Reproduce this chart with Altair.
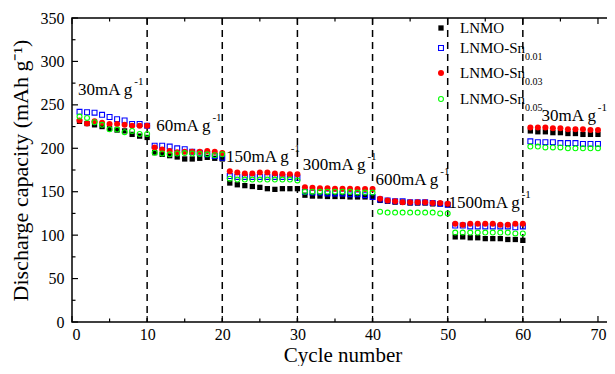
import altair as alt
import pandas as pd

# ---------------- data ----------------
cycles = list(range(1, 71))

lnmo = [231, 228.5, 227, 225, 222.7, 221, 220, 216, 214, 212.5,
        195, 193, 191.5, 190, 187.7, 187.7, 188.5, 189.6, 188.5, 187.7,
        160, 158, 157, 156, 155, 153.5, 152.7, 153.5, 153.5, 153.5,
        146, 145, 145, 144.5, 144.5, 144.5, 144, 144, 144, 144,
        140, 139, 138, 138, 137, 137, 137, 136, 136, 135,
        98, 98, 97, 97, 96, 96, 96, 95, 95, 94,
        220, 219, 219, 218, 218, 217, 217, 216, 216, 216]

sn001 = [242, 241.5, 241, 238.5, 236, 233.5, 232, 228, 228, 226,
         203, 203, 202, 200, 199, 196, 195, 193, 191, 189,
         168, 167, 167, 167, 167, 167, 167, 167, 167, 166,
         150, 149, 149, 148, 148, 148, 147, 147, 146, 144,
         141, 140, 139, 139, 138, 138, 138, 137, 136, 135,
         111, 111, 110, 110, 110, 110, 110, 110, 109, 110,
         208, 207, 207, 207, 206, 206, 206, 205, 205, 205]

sn003 = [232, 228.5, 231, 229.5, 228, 228, 227, 226, 226, 226,
         201, 198.5, 197, 195.5, 196, 196, 196, 197, 196, 194.5,
         173.5, 172, 171, 171, 172, 172, 171, 170.5, 170, 170,
         155, 154.5, 154, 154, 153.5, 153.5, 153.5, 153, 153, 153,
         142, 140, 139, 138, 138, 138, 138, 137, 137, 136,
         113, 112, 113, 113, 113, 113, 112, 112, 113, 113,
         224, 224, 224, 223, 223, 222, 222, 222, 221, 221]

sn005 = [236.5, 235, 230, 227, 222, 221.5, 218.5, 220, 216.5, 216.5,
         195, 194, 193, 194, 194.5, 194, 193.5, 193, 192, 193,
         165, 164, 164, 164, 164, 164, 164, 164, 164, 163,
         150, 150, 150, 150, 150, 150, 150, 149, 149, 149,
         127, 126, 126, 126, 126, 126, 126, 126, 125, 125,
         103, 103, 103, 103, 103, 103, 103, 103, 102, 102,
         202, 202, 201, 201, 201, 200, 200, 200, 200, 200]

series_names = ["LNMO", "LNMO-Sn", "LNMO-Sn", "LNMO-Sn"]
series_subs = ["", "0.01", "0.03", "0.05"]

rate_boundaries = [10, 20, 30, 40, 50, 60]

ann_text = ["30mA g", "60mA g", "150mA g", "300mA g", "600mA g", "1500mA g", "30mA g"]
ann_x = [0.8, 11.2, 20.5, 30.7, 40.4, 50.1, 62.5]
ann_y = [267, 226, 190, 181, 164, 137, 237]

x_ticks_major = [0, 10, 20, 30, 40, 50, 60, 70]
x_ticks_minor = [5, 15, 25, 35, 45, 55, 65]
y_ticks_major = [0, 50, 100, 150, 200, 250, 300, 350]
y_ticks_minor = [25, 75, 125, 175, 225, 275, 325]

# ---------------- styling ----------------
W, H = 541, 304
FONT = "Liberation Serif"
XDOM = [0, 72]
YDOM = [0, 350]
GREEN = "#00ff00"

xs = alt.Scale(domain=XDOM, nice=False, zero=False)
ys = alt.Scale(domain=YDOM, nice=False)

char_w = {" ": 0.25, "m": 0.778, "A": 0.722, "g": 0.5, "L": 0.611, "N": 0.722,
          "M": 0.889, "O": 0.722, "-": 0.333, "S": 0.556, "n": 0.5}


def text_width(s, size):
    return sum(char_w.get(c, 0.5) for c in s) * size


x_axis = alt.Axis(values=x_ticks_major, title="Cycle number")
y_axis = alt.Axis(values=y_ticks_major, title="Discharge capacity (mAh g\u207b\u00b9)")

df = pd.DataFrame({"cycle": cycles, "lnmo": lnmo, "sn001": sn001,
                   "sn003": sn003, "sn005": sn005})

base = alt.Chart(df)

p_lnmo = base.mark_point(shape="square", filled=True, color="black", size=28, opacity=1).encode(
    x=alt.X("cycle:Q", scale=xs, axis=x_axis), y=alt.Y("lnmo:Q", scale=ys, axis=y_axis))
p_001 = base.mark_point(shape="square", filled=False, color="#0000ff", size=24,
                        strokeWidth=1.1, opacity=1).encode(
    x=alt.X("cycle:Q", scale=xs), y=alt.Y("sn001:Q", scale=ys))
p_003 = base.mark_point(shape="circle", filled=True, color="#ff0000", size=36, opacity=1).encode(
    x=alt.X("cycle:Q", scale=xs), y=alt.Y("sn003:Q", scale=ys))
p_005 = base.mark_point(shape="circle", filled=False, color=GREEN, size=24,
                        strokeWidth=1.1, opacity=1).encode(
    x=alt.X("cycle:Q", scale=xs), y=alt.Y("sn005:Q", scale=ys))

dash = alt.Chart(pd.DataFrame({"x": rate_boundaries})).mark_rule(
    color="black", strokeWidth=1.5, strokeDash=[7, 5]).encode(
    x=alt.X("x:Q", scale=xs))

# rate annotations with superscript -1
ann_df = pd.DataFrame({"t": ann_text, "x": ann_x, "y": ann_y})
units_per_px = (XDOM[1] - XDOM[0]) / W
ann_df["sx"] = ann_df["x"] + [text_width(t, 17) * units_per_px for t in ann_text]
ann = alt.Chart(ann_df).mark_text(font=FONT, fontSize=17, align="left", baseline="middle",
                                  color="black").encode(
    x=alt.X("x:Q", scale=xs), y=alt.Y("y:Q", scale=ys), text="t:N")
ann_sup = alt.Chart(ann_df).mark_text(font=FONT, fontSize=11, align="left", baseline="middle",
                                      color="black", dx=1, dy=-8).encode(
    x=alt.X("sx:Q", scale=xs), y=alt.Y("y:Q", scale=ys), text=alt.value("-1"))


# inward ticks on all four sides
def xticks(vals, length):
    d = alt.Chart(pd.DataFrame({"v": vals}))
    bot = d.mark_rule(color="black", strokeWidth=1.2).encode(
        x=alt.X("v:Q", scale=xs), y=alt.value(H), y2=alt.value(H - length))
    top = d.mark_rule(color="black", strokeWidth=1.2).encode(
        x=alt.X("v:Q", scale=xs), y=alt.value(0), y2=alt.value(length))
    return bot + top


def yticks(vals, length):
    d = alt.Chart(pd.DataFrame({"v": vals}))
    left = d.mark_rule(color="black", strokeWidth=1.2).encode(
        y=alt.Y("v:Q", scale=ys), x=alt.value(0), x2=alt.value(length))
    right = d.mark_rule(color="black", strokeWidth=1.2).encode(
        y=alt.Y("v:Q", scale=ys), x=alt.value(W), x2=alt.value(W - length))
    return left + right


ticks = xticks(x_ticks_major, 6) + xticks(x_ticks_minor, 3.5) + \
    yticks(y_ticks_major, 6) + yticks(y_ticks_minor, 3.5)

# manual legend (with subscripts), placed top-right inside the plot
leg_df = pd.DataFrame({
    "name": series_names, "sub": series_subs,
    "px": [369] * 4, "py": [10, 30, 55, 81],
})
leg_df["tx"] = leg_df["px"] + 19
leg_df["sx"] = leg_df["tx"] + [text_width(n, 15) for n in series_names]
leg_styles = [("square", True, "black", 28), ("square", False, "#0000ff", 24),
              ("circle", True, "#ff0000", 36), ("circle", False, GREEN, 24)]
leg_sym = []
for i, (shp, fil, col, sz) in enumerate(leg_styles):
    leg_sym.append(alt.Chart(leg_df.iloc[[i]]).mark_point(
        shape=shp, filled=fil, color=col, size=sz, strokeWidth=1.1, opacity=1).encode(
        x=alt.X("px:Q", scale=None), y=alt.Y("py:Q", scale=None)))
leg_txt = alt.Chart(leg_df).mark_text(font=FONT, fontSize=15, align="left", baseline="middle",
                                      color="black").encode(
    x=alt.X("tx:Q", scale=None), y=alt.Y("py:Q", scale=None), text="name:N")
leg_sub = alt.Chart(leg_df).mark_text(font=FONT, fontSize=10, align="left", baseline="middle",
                                      color="black", dy=9).encode(
    x=alt.X("sx:Q", scale=None), y=alt.Y("py:Q", scale=None), text="sub:N")

chart = alt.layer(
    p_lnmo, dash, ticks, p_001, p_003, p_005, ann, ann_sup,
    *leg_sym, leg_txt, leg_sub
).properties(
    width=W, height=H,
    background="white",
    autosize=alt.AutoSizeParams(type="none"),
    padding={"left": 64, "top": 10, "right": -6, "bottom": 44},
).configure_view(
    stroke="black", strokeWidth=1.5
).configure_axis(
    ticks=False, domain=False, grid=False,
    labelFont=FONT, labelFontSize=16, labelColor="black",
    titleFont=FONT, titleFontWeight="normal", titleColor="black",
).configure_axisX(
    labelPadding=4, titleFontSize=21, titlePadding=2,
).configure_axisY(
    labelPadding=8, titleFontSize=22, titlePadding=8,
)

chart.save("out.html", embed_options={"renderer": "svg", "actions": False})
